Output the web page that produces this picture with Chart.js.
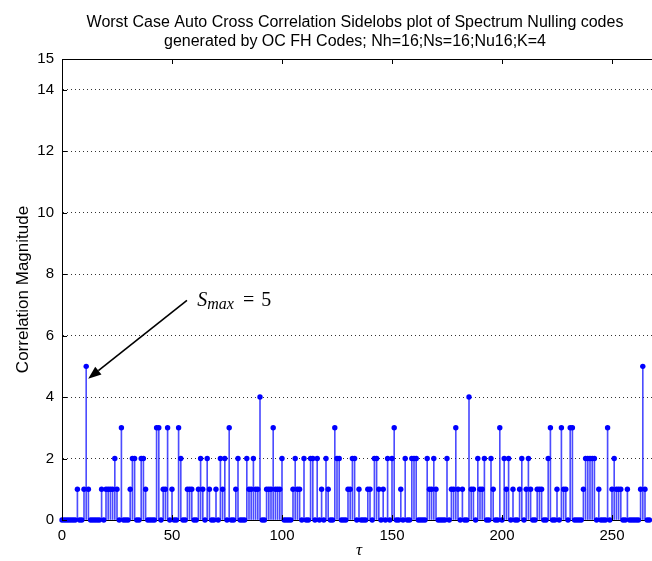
<!DOCTYPE html>
<html>
<head>
<meta charset="utf-8">
<script src="https://cdn.jsdelivr.net/npm/chart.js@4.4.0/dist/chart.umd.min.js"></script>
<style>
  html, body { margin: 0; padding: 0; background: #fff; overflow: hidden; }
</style>
</head>
<body>
<canvas id="myChart" width="690" height="561"></canvas>
<script>
// worst case sidelobe magnitude for each lag tau = 0..267
let sidelobes = [
  0,0,0,0,0,0,0,1,0,0,
  1,5,1,0,0,0,0,0,1,0,
  1,1,1,1,2,1,0,3,0,0,
  0,1,2,2,0,0,2,2,1,0,
  0,0,0,3,3,0,1,1,3,0,
  1,0,0,3,2,0,0,1,1,1,
  0,0,1,2,1,0,2,1,0,0,
  1,0,2,1,2,0,3,0,0,1,
  2,0,0,0,2,1,1,2,1,1,
  4,0,0,1,1,1,3,1,1,1,
  2,0,0,0,0,1,2,1,1,0,
  2,0,0,2,2,0,2,0,1,0,
  2,1,0,0,3,2,2,0,0,0,
  1,1,2,2,0,1,0,0,0,1,
  1,0,2,2,1,0,1,0,2,0,
  2,3,0,0,1,0,2,0,0,2,
  2,2,0,0,0,0,2,1,1,2,
  1,0,0,0,0,2,0,1,1,3,
  1,0,1,0,0,4,1,1,0,2,
  1,1,2,0,0,2,1,0,0,3,
  0,2,1,2,0,1,0,0,1,2,
  0,1,2,1,0,0,1,1,1,0,
  0,2,3,0,0,1,0,3,1,1,
  0,3,3,0,0,0,0,1,2,2,
  2,2,2,0,1,0,0,0,3,0,
  1,2,1,1,1,0,0,1,0,0,
  0,0,0,1,5,1,0,0
];
let xTicks = [0, 50, 100, 150, 200, 250];
let yTicks = [0, 2, 4, 6, 8, 10, 12, 14, 15];
let titleLines = [
  "Worst Case Auto Cross Correlation Sidelobs plot of Spectrum Nulling codes",
  "generated by OC FH Codes; Nh=16;Ns=16;Nu16;K=4"
];
let xLabel = "\u03C4";
let yLabel = "Correlation Magnitude";

// annotation: arrow pointing at the first peak, in data units
let arrowTail = { x: 56.8, y: 7.15 };
let arrowTip = { x: 11.9, y: 4.6 };
let noteAt = { x: 61.5, y: 7.15 };

let points = sidelobes.map((v, i) => ({ x: i, y: v }));
let textFont = "'Liberation Sans', Arial, sans-serif";
let mathFont = "'Liberation Serif', 'DejaVu Serif', serif";

let matlabBox = {
  id: 'matlabBox',
  afterDraw(chart) {
    let ctx = chart.ctx;
    let a = chart.chartArea;
    let xs = chart.scales.x;
    let ys = chart.scales.y;
    ctx.save();

    // title, centred over the axes
    ctx.fillStyle = '#000';
    ctx.textAlign = 'center';
    ctx.textBaseline = 'middle';
    ctx.font = "16px " + textFont;
    let cx = (a.left + a.right) / 2 - 4;
    titleLines.forEach(function (line, i) {
      ctx.fillText(line, cx, 23 + i * 19);
    });

    ctx.strokeStyle = '#000';
    ctx.lineWidth = 1;
    ctx.beginPath();
    ctx.moveTo(a.left, Math.round(a.top) + 0.5);
    ctx.lineTo(a.right, Math.round(a.top) + 0.5);
    ctx.stroke();
    // inward ticks like matlab
    ctx.beginPath();
    xTicks.forEach(function (t) {
      let px = Math.round(xs.getPixelForValue(t)) + 0.5;
      ctx.moveTo(px, a.bottom);
      ctx.lineTo(px, a.bottom - 5);
      ctx.moveTo(px, a.top);
      ctx.lineTo(px, a.top + 5);
    });
    yTicks.forEach(function (t) {
      let py = Math.round(ys.getPixelForValue(t)) + 0.5;
      ctx.moveTo(a.left, py);
      ctx.lineTo(a.left + 5, py);
    });
    ctx.stroke();

    // arrow + S_max label
    let x1 = xs.getPixelForValue(arrowTail.x), y1 = ys.getPixelForValue(arrowTail.y);
    let x2 = xs.getPixelForValue(arrowTip.x), y2 = ys.getPixelForValue(arrowTip.y);
    let ang = Math.atan2(y2 - y1, x2 - x1);
    let headLen = 13, headW = 5;
    let bx = x2 - headLen * Math.cos(ang), by = y2 - headLen * Math.sin(ang);
    ctx.lineWidth = 1.6;
    ctx.beginPath();
    ctx.moveTo(x1, y1);
    ctx.lineTo(bx, by);
    ctx.stroke();
    ctx.beginPath();
    ctx.moveTo(x2, y2);
    ctx.lineTo(bx + headW * Math.sin(ang), by - headW * Math.cos(ang));
    ctx.lineTo(bx - headW * Math.sin(ang), by + headW * Math.cos(ang));
    ctx.closePath();
    ctx.fill();

    let tx = xs.getPixelForValue(noteAt.x);
    let ty = ys.getPixelForValue(noteAt.y) + 6;
    ctx.textBaseline = 'alphabetic';
    ctx.textAlign = 'left';
    ctx.font = "italic 20px " + mathFont;
    ctx.fillText("S", tx, ty);
    tx += ctx.measureText("S").width;
    ctx.font = "italic 16px " + mathFont;
    ctx.fillText("max", tx, ty + 3);
    tx += ctx.measureText("max").width + 9;
    ctx.font = "20px " + mathFont;
    ctx.fillText("=", tx, ty);
    tx += ctx.measureText("=").width + 7;
    ctx.fillText("5", tx, ty);
    ctx.restore();
  }
};

new Chart("myChart", {
  type: "bar",
  data: {
    datasets: [{
      type: "bar",
      data: points,
      backgroundColor: "rgba(0,0,255,0.7)",
      borderWidth: 0,
      barThickness: 1,
      order: 2
    }, {
      type: "scatter",
      data: points,
      showLine: false,
      pointStyle: "circle",
      pointRadius: 2.7,
      pointBackgroundColor: "#0000ff",
      pointBorderColor: "#0000ff",
      pointBorderWidth: 0,
      clip: false,
      order: 1
    }]
  },
  options: {
    responsive: false,
    animation: false,
    devicePixelRatio: 1,
    layout: { padding: { left: 0, right: 34, top: 59, bottom: 0 } },
    plugins: {
      legend: { display: false },
      tooltip: { enabled: false },
      title: { display: false }
    },
    scales: {
      x: {
        type: "linear",
        min: 0,
        max: 270,
        offset: false,
        afterBuildTicks: function (scale) {
          scale.ticks = xTicks.map(v => ({ value: v }));
        },
        afterFit: function (scale) { scale.height = 41; },
        grid: { display: false, offset: false, drawTicks: false },
        border: { display: true, color: "#000", width: 1 },
        ticks: { color: "#000", padding: 7, maxRotation: 0, font: { family: textFont, size: 15 } },
        title: {
          display: true,
          text: xLabel,
          color: "#000",
          font: { family: mathFont, size: 17, style: "italic" },
          padding: { top: 0, bottom: 0 }
        }
      },
      y: {
        min: 0,
        max: 15,
        afterBuildTicks: function (scale) {
          scale.ticks = yTicks.map(v => ({ value: v }));
        },
        afterFit: function (scale) { scale.width = 62; },
        grid: {
          drawTicks: false,
          color: function (c) {
            let v = c.tick ? c.tick.value : 0;
            return (v === 0 || v === 15) ? "rgba(0,0,0,0)" : "#333";
          }
        },
        border: { display: true, color: "#000", width: 1, dash: [1, 3] },
        ticks: { color: "#000", padding: 8, font: { family: textFont, size: 15 } },
        title: {
          display: true,
          text: yLabel,
          color: "#000",
          font: { family: textFont, size: 17 },
          padding: { top: 13, bottom: 0 }
        }
      }
    }
  },
  plugins: [matlabBox]
});
</script>
</body>
</html>
